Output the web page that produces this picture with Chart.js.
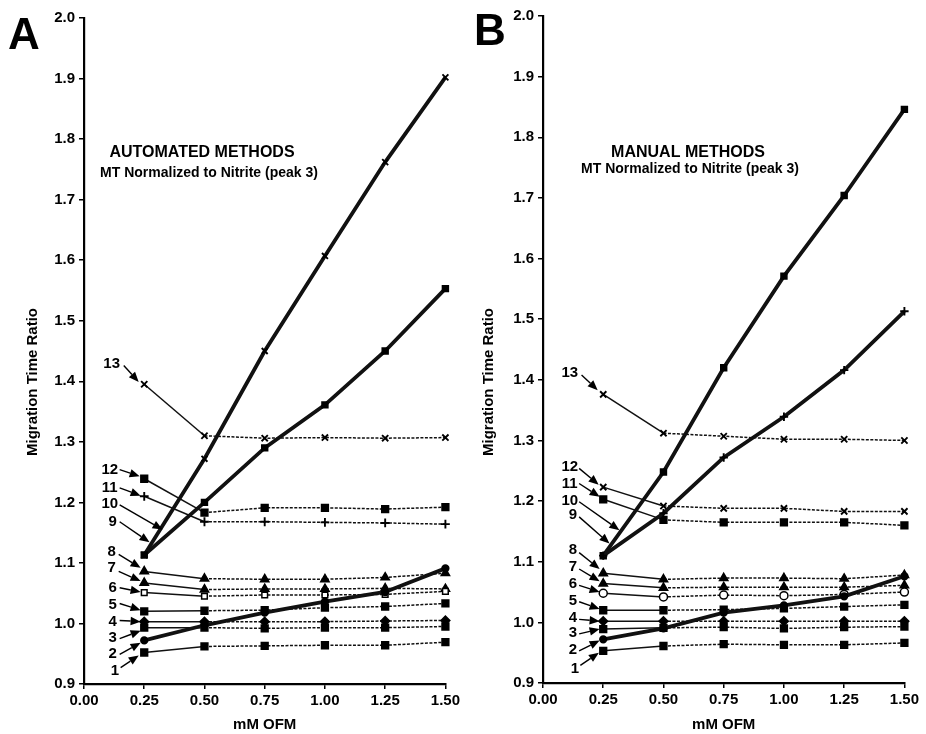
<!DOCTYPE html>
<html>
<head>
<meta charset="utf-8">
<script src="https://cdn.jsdelivr.net/npm/chart.js@4/dist/chart.umd.min.js"></script>
<style>
  html, body { margin: 0; padding: 0; background: #fff; }
  #wrap { position: relative; width: 926px; height: 734px; background: #fff; overflow: hidden; }
  .panel { position: absolute; top: 0; width: 463px; height: 734px; }
</style>
</head>
<body>
<div id="wrap">
  <div class="panel" style="left:0px"><canvas id="chartA" width="463" height="734"></canvas></div>
  <div class="panel" style="left:459px"><canvas id="chartB" width="463" height="734"></canvas></div>
</div>
<script>
// ---------- DATA ----------
const concentrations = [0.25, 0.50, 0.75, 1.00, 1.25, 1.50];   // mM OFM
const xTickLabels = ['0.00', '0.25', '0.50', '0.75', '1.00', '1.25', '1.50'];
const yTickLabels = ['0.9', '1.0', '1.1', '1.2', '1.3', '1.4', '1.5', '1.6', '1.7', '1.8', '1.9', '2.0'];
const peakNames = ['1','2','3','4','5','6','7','8','9','10','11','12','13'];

// Panel A: automated methods
const autoPeak1  = [0.952, 0.962, 0.963, 0.964, 0.964, 0.969];
const autoPeak2  = [0.972, 0.997, 1.018, 1.036, 1.052, 1.091];
const autoPeak3  = [0.993, 0.993, 0.992, 0.993, 0.993, 0.995];
const autoPeak4  = [1.003, 1.003, 1.003, 1.003, 1.004, 1.005];
const autoPeak5  = [1.020, 1.021, 1.022, 1.026, 1.028, 1.033];
const autoPeak6  = [1.051, 1.045, 1.047, 1.047, 1.048, 1.053];
const autoPeak7  = [1.067, 1.056, 1.057, 1.057, 1.058, 1.057];
const autoPeak8  = [1.086, 1.074, 1.073, 1.073, 1.076, 1.083];
const autoPeak9  = [1.113, 1.200, 1.290, 1.361, 1.450, 1.553];
const autoPeak10 = [1.113, 1.272, 1.450, 1.607, 1.762, 1.902];
const autoPeak11 = [1.210, 1.168, 1.168, 1.167, 1.166, 1.164];
const autoPeak12 = [1.239, 1.183, 1.191, 1.191, 1.189, 1.192];
const autoPeak13 = [1.395, 1.310, 1.306, 1.307, 1.306, 1.307];

// Panel B: manual methods
const manPeak1  = [0.953, 0.961, 0.964, 0.963, 0.963, 0.966];
const manPeak2  = [0.972, 0.990, 1.016, 1.028, 1.043, 1.076];
const manPeak3  = [0.989, 0.991, 0.992, 0.990, 0.992, 0.993];
const manPeak4  = [1.002, 1.002, 1.002, 1.002, 1.002, 1.002];
const manPeak5  = [1.020, 1.020, 1.021, 1.023, 1.026, 1.029];
const manPeak6  = [1.048, 1.042, 1.045, 1.044, 1.046, 1.050];
const manPeak7  = [1.064, 1.057, 1.058, 1.058, 1.058, 1.061];
const manPeak8  = [1.081, 1.071, 1.073, 1.073, 1.072, 1.078];
const manPeak9  = [1.110, 1.180, 1.272, 1.339, 1.416, 1.513];
const manPeak10 = [1.110, 1.248, 1.420, 1.571, 1.704, 1.846];
const manPeak11 = [1.203, 1.169, 1.165, 1.165, 1.165, 1.160];
const manPeak12 = [1.223, 1.192, 1.188, 1.188, 1.183, 1.183];
const manPeak13 = [1.376, 1.312, 1.307, 1.302, 1.302, 1.300];

// Peak-number callouts, in data units: [label, textX, textY, fromX, fromY, toX, toY]
const autoCallouts = [
  ['13', 0.115, 1.429, 0.165, 1.426, 0.227, 1.399],
  ['12', 0.107, 1.254, 0.148, 1.254, 0.231, 1.243],
  ['11', 0.107, 1.224, 0.148, 1.224, 0.235, 1.211],
  ['10', 0.107, 1.198, 0.148, 1.196, 0.326, 1.155],
  ['9',  0.119, 1.168, 0.148, 1.168, 0.272, 1.134],
  ['8',  0.115, 1.119, 0.144, 1.114, 0.235, 1.092],
  ['7',  0.115, 1.092, 0.144, 1.086, 0.235, 1.070],
  ['6',  0.119, 1.059, 0.148, 1.059, 0.235, 1.052],
  ['5',  0.119, 1.031, 0.148, 1.033, 0.235, 1.022],
  ['4',  0.119, 1.003, 0.148, 1.005, 0.235, 1.003],
  ['3',  0.119, 0.977, 0.148, 0.975, 0.235, 0.988],
  ['2',  0.119, 0.950, 0.148, 0.949, 0.235, 0.968],
  ['1',  0.128, 0.921, 0.152, 0.927, 0.227, 0.947]
];
const manCallouts = [
  ['13', 0.111, 1.411, 0.160, 1.408, 0.227, 1.383],
  ['12', 0.111, 1.256, 0.150, 1.254, 0.231, 1.227],
  ['11', 0.111, 1.229, 0.150, 1.229, 0.235, 1.207],
  ['10', 0.111, 1.201, 0.150, 1.199, 0.317, 1.152],
  ['9',  0.124, 1.177, 0.150, 1.174, 0.276, 1.130],
  ['8',  0.124, 1.119, 0.150, 1.115, 0.235, 1.088],
  ['7',  0.124, 1.092, 0.150, 1.088, 0.235, 1.068],
  ['6',  0.124, 1.063, 0.150, 1.061, 0.235, 1.050],
  ['5',  0.124, 1.035, 0.150, 1.034, 0.235, 1.022],
  ['4',  0.124, 1.007, 0.150, 1.005, 0.235, 1.002],
  ['3',  0.124, 0.982, 0.150, 0.981, 0.235, 0.989],
  ['2',  0.124, 0.954, 0.150, 0.953, 0.235, 0.970],
  ['1',  0.132, 0.924, 0.155, 0.929, 0.232, 0.950]
];

const autoSeries = [autoPeak1, autoPeak2, autoPeak3, autoPeak4, autoPeak5, autoPeak6, autoPeak7,
                    autoPeak8, autoPeak9, autoPeak10, autoPeak11, autoPeak12, autoPeak13];
const manSeries = [manPeak1, manPeak2, manPeak3, manPeak4, manPeak5, manPeak6, manPeak7,
                   manPeak8, manPeak9, manPeak10, manPeak11, manPeak12, manPeak13];

// ---------- STYLES ----------
const autoMarkers = ['rect','circle','rect','rectRot','rect','rectOpen','triangle','triangle','rect','crossRot','cross','rect','crossRot'];
const manMarkers  = ['rect','circle','rect','rectRot','rect','circleOpen','triangle','triangle','cross','rect','rect','crossRot','crossRot'];
const thickPeaks = ['2', '9', '10'];
const FONT = "'Liberation Sans', Arial, sans-serif";

function buildDatasets(series, markers) {
  return series.map((vals, i) => {
    const name = peakNames[i];
    const thick = thickPeaks.includes(name);
    let style = markers[i];
    let bg = '#000';
    if (style === 'rectOpen') { style = 'rect'; bg = '#fff'; }
    if (style === 'circleOpen') { style = 'circle'; bg = '#fff'; }
    let r = 4.8;
    if (style === 'circle') r = 3.4;
    if (style === 'rectRot') r = 4.4;
    if (style === 'triangle') r = 4.8;
    if (style === 'cross' || style === 'crossRot') r = 4.4;
    if (thick && style !== 'circle') r = 4.2;
    if (bg === '#fff') r = 4.0;
    return {
      label: 'Peak ' + name,
      data: concentrations.map((x, j) => ({ x: x, y: vals[j] })),
      borderColor: '#111',
      backgroundColor: '#111',
      borderWidth: thick ? 3.8 : 1.5,
      pointStyle: style,
      pointRadius: r,
      pointBackgroundColor: bg,
      pointBorderColor: '#000',
      pointBorderWidth: (style === 'cross' || style === 'crossRot') ? 1.9 : 1.5,
      tension: 0,
      fill: false,
      clip: 10,
      order: thick ? 0 : 1,
      segment: thick ? {} : {
        borderDash: ctx => ctx.p0DataIndex >= 1 ? [3, 1.5] : undefined
      }
    };
  });
}

function drawArrow(ctx, x0, y0, x1, y1) {
  const ang = Math.atan2(y1 - y0, x1 - x0);
  const L = 10, W = 4.2;
  const bx = x1 - L * Math.cos(ang), by = y1 - L * Math.sin(ang);
  ctx.beginPath();
  ctx.moveTo(x0, y0);
  ctx.lineTo(bx, by);
  ctx.lineWidth = 1.4;
  ctx.strokeStyle = '#000';
  ctx.stroke();
  ctx.beginPath();
  ctx.moveTo(x1, y1);
  ctx.lineTo(bx + W * Math.sin(ang), by - W * Math.cos(ang));
  ctx.lineTo(bx - W * Math.sin(ang), by + W * Math.cos(ang));
  ctx.closePath();
  ctx.fillStyle = '#000';
  ctx.fill();
}

function makeChart(id, series, markers, callouts, cfg) {
  const decor = {
    id: 'decor' + id,
    afterDraw(chart) {
      const ctx = chart.ctx;
      const xs = chart.scales.x, ys = chart.scales.y;
      ctx.save();
      ctx.fillStyle = '#000';
      // callouts
      ctx.font = 'bold 15px ' + FONT;
      ctx.textAlign = 'center';
      ctx.textBaseline = 'middle';
      callouts.forEach(c => {
        ctx.fillText(c[0], xs.getPixelForValue(c[1]), ys.getPixelForValue(c[2]));
        drawArrow(ctx, xs.getPixelForValue(c[3]), ys.getPixelForValue(c[4]),
                  xs.getPixelForValue(c[5]), ys.getPixelForValue(c[6]));
      });
      // titles
      ctx.font = 'bold 16px ' + FONT;
      ctx.fillText(cfg.title, cfg.titleX, cfg.titleY);
      ctx.font = 'bold 14px ' + FONT;
      ctx.fillText(cfg.subtitle, cfg.subX, cfg.subY);
      // panel letter
      ctx.font = 'bold 44px ' + FONT;
      ctx.fillText(cfg.letter, cfg.letterX, cfg.letterY);
      // y axis title
      ctx.save();
      ctx.translate(cfg.yTitleX, 382);
      ctx.rotate(-Math.PI / 2);
      ctx.font = 'bold 15px ' + FONT;
      ctx.fillText('Migration Time Ratio', 0, 0);
      ctx.restore();
      ctx.restore();
    }
  };

  return new Chart(document.getElementById(id), {
    type: 'line',
    data: { datasets: buildDatasets(series, markers) },
    options: {
      responsive: false,
      animation: false,
      devicePixelRatio: 1,
      layout: { padding: { top: cfg.padTop, right: 15, left: 0, bottom: 0 } },
      plugins: { legend: { display: false }, tooltip: { enabled: false } },
      scales: {
        x: {
          type: 'linear',
          min: 0, max: 1.5,
          afterFit: s => { s.height = cfg.xHeight; },
          afterBuildTicks: s => { s.ticks = xTickLabels.map(t => ({ value: parseFloat(t) })); },
          ticks: {
            color: '#000',
            font: { family: FONT, size: 15, weight: 'bold' },
            padding: 3,
            maxRotation: 0,
            callback: (v) => xTickLabels.find(t => Math.abs(parseFloat(t) - v) < 1e-6) || ''
          },
          grid: { drawOnChartArea: false, drawTicks: true, tickLength: 5, color: '#000', lineWidth: 1.5 },
          border: { color: '#000', width: 2.2 },
          title: { display: true, text: 'mM OFM', color: '#000',
                   font: { family: FONT, size: 15, weight: 'bold' }, padding: { top: 6, bottom: 0 } }
        },
        y: {
          type: 'linear',
          min: 0.9, max: 2.0,
          afterFit: s => { s.width = 84; },
          afterBuildTicks: s => { s.ticks = yTickLabels.map(t => ({ value: parseFloat(t) })); },
          ticks: {
            color: '#000',
            font: { family: FONT, size: 15, weight: 'bold' },
            padding: 4,
            callback: (v) => yTickLabels.find(t => Math.abs(parseFloat(t) - v) < 1e-6) || ''
          },
          grid: { drawOnChartArea: false, drawTicks: true, tickLength: 5, color: '#000', lineWidth: 1.5 },
          border: { color: '#000', width: 2.2 }
        }
      }
    },
    plugins: [decor]
  });
}

makeChart('chartA', autoSeries, autoMarkers, autoCallouts, {
  padTop: 18, xHeight: 50,
  title: 'AUTOMATED METHODS', titleX: 202, titleY: 153,
  subtitle: 'MT Normalized to Nitrite (peak 3)', subX: 209, subY: 173,
  letter: 'A', letterX: 24, letterY: 37, yTitleX: 33
});
makeChart('chartB', manSeries, manMarkers, manCallouts, {
  padTop: 16, xHeight: 51,
  title: 'MANUAL METHODS', titleX: 229, titleY: 153,
  subtitle: 'MT Normalized to Nitrite (peak 3)', subX: 231, subY: 169,
  letter: 'B', letterX: 31, letterY: 33, yTitleX: 30
});
</script>
</body>
</html>
